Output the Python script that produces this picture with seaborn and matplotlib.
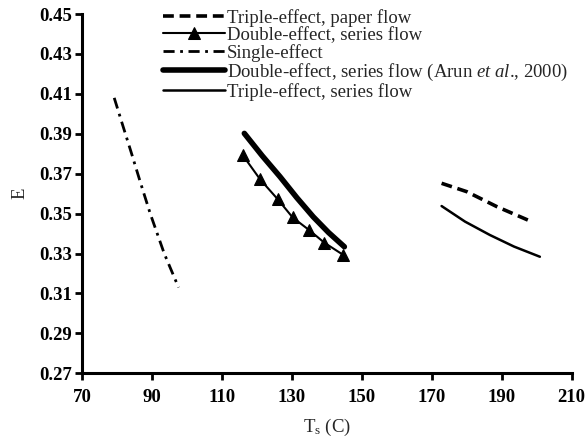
import matplotlib
matplotlib.use("Agg")
import matplotlib.pyplot as plt
import seaborn as sns
import pandas as pd

# Data
single_T = [79.2, 81.5, 84.0, 86.8, 89.5, 93.5, 97.6]
single_E = [0.408, 0.395, 0.381, 0.365, 0.350, 0.330, 0.313]

double_T = [115.9, 120.9, 125.9, 130.2, 134.9, 139.3, 144.7]
double_E = [0.3794, 0.3672, 0.3573, 0.3481, 0.3418, 0.3354, 0.3293]

arun_T = [116.4, 121.5, 126.6, 131.4, 136.1, 140.5, 145.0]
arun_E = [0.3902, 0.3790, 0.3685, 0.3580, 0.3484, 0.3405, 0.3334]

tpaper_T = [172.8, 180.0, 188.6, 198.1]
tpaper_E = [0.3652, 0.3610, 0.3535, 0.3463]

tseries_T = [172.8, 179.5, 186.6, 193.5, 200.9]
tseries_E = [0.3538, 0.3460, 0.3393, 0.3335, 0.3284]

labels = [
    "Triple-effect, paper flow",
    "Double-effect, series flow",
    "Single-effect",
    "Double-effect, series flow (Arun $\\it{et\\ al}$., 2000)",
    "Triple-effect, series flow",
]

sns.set_style("ticks")
plt.rcParams["font.family"] = ["Liberation Serif", "DejaVu Serif"]
plt.rcParams["mathtext.fontset"] = "custom"
plt.rcParams["mathtext.rm"] = "Liberation Serif"
plt.rcParams["mathtext.it"] = "Liberation Serif:italic"

fig = plt.figure(figsize=(5.86, 4.41), dpi=100)
ax = fig.add_axes([0.140, 0.1535, 0.8356, 0.8147])

def df(t, e):
    return pd.DataFrame({"T": t, "E": e})

sns.lineplot(data=df(tpaper_T, tpaper_E), x="T", y="E", ax=ax, color="black",
             lw=2.6, linestyle=(0, (3.0, 1.6)), label=labels[0], sort=False)
sns.lineplot(data=df(double_T, double_E), x="T", y="E", ax=ax, color="black",
             lw=1.5, marker="^", markersize=8.5, markeredgecolor="black",
             label=labels[1], sort=False)
sns.lineplot(data=df(single_T, single_E), x="T", y="E", ax=ax, color="black",
             lw=2.0, linestyle=(0, (4.0, 2.0, 1.0, 2.0)), label=labels[2], sort=False)
sns.lineplot(data=df(arun_T, arun_E), x="T", y="E", ax=ax, color="black",
             lw=4.0, label=labels[3], sort=False)
sns.lineplot(data=df(tseries_T, tseries_E), x="T", y="E", ax=ax, color="black",
             lw=1.8, label=labels[4], sort=False)

ax.set_xlim(70, 210)
ax.set_ylim(0.27, 0.45)
ax.set_xticks([70, 90, 110, 130, 150, 170, 190, 210])
ax.set_yticks([0.27, 0.29, 0.31, 0.33, 0.35, 0.37, 0.39, 0.41, 0.43, 0.45])
ax.set_yticklabels([f"{v:.2f}" for v in ax.get_yticks()])

for s in ["top", "right"]:
    ax.spines[s].set_visible(False)
for s in ["left", "bottom"]:
    ax.spines[s].set_linewidth(2.2)
    ax.spines[s].set_color("black")
ax.tick_params(axis="both", direction="out", length=5, width=2.0,
               labelsize=13.5, colors="black", pad=2)
ax.tick_params(axis="x", pad=6)
for lab in ax.get_xticklabels() + ax.get_yticklabels():
    lab.set_fontweight("bold")

ax.set_xlabel("T$_\\mathregular{s}$ (C)", fontsize=13.5, labelpad=8)
ax.set_ylabel("E", fontsize=13.5, labelpad=8)

leg = ax.legend(loc="upper left", bbox_to_anchor=(163 / 586, 1 - 9 / 441),
                bbox_transform=fig.transFigure, frameon=False, fontsize=13.5,
                handlelength=3.3, handletextpad=0.1, labelspacing=0.0,
                borderpad=0.0, borderaxespad=0.0)

fig.savefig("out.png", dpi=100)
